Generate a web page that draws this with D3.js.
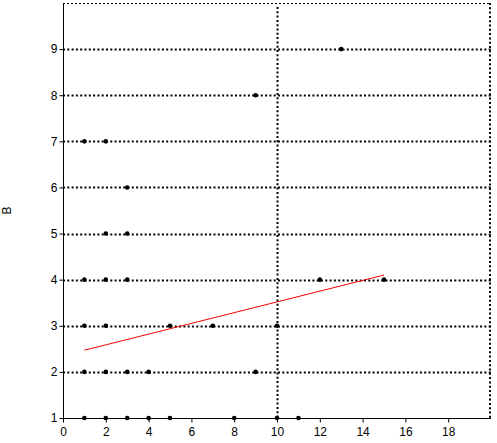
<!DOCTYPE html>
<html>
<head>
<meta charset="utf-8">
<script src="https://cdn.jsdelivr.net/npm/d3@7"></script>
<style>
  body { margin: 0; background: #fff; }
  text { font-family: "Liberation Sans", Arial, sans-serif; }
</style>
</head>
<body>
<div id="chart"></div>
<script>
// points, grouped by their B value
const xValues = [1, 2, 3, 4, 5, 8, 10, 11,
                 1, 2, 3, 4, 9,
                 1, 2, 5, 7, 10,
                 1, 2, 3, 12, 15,
                 2, 3,
                 3,
                 1, 2,
                 9,
                 13];
const yValues = [1, 1, 1, 1, 1, 1, 1, 1,
                 2, 2, 2, 2, 2,
                 3, 3, 3, 3, 3,
                 4, 4, 4, 4, 4,
                 5, 5,
                 6,
                 7, 7,
                 8,
                 9];
const xTicks = [0, 2, 4, 6, 8, 10, 12, 14, 16, 18];
const yTicks = [1, 2, 3, 4, 5, 6, 7, 8, 9];
const fitX = [1, 15];
const fitY = [2.47, 4.1];
const refX = 10;

let width = 497;
let height = 443;
let margin = { top: 3, right: 6, bottom: 25, left: 63 };

let svg = d3.select('#chart')
    .append('svg')
    .attr('width', width)
    .attr('height', height);

let x = d3.scaleLinear().domain([0, 20]).range([margin.left, width - margin.right]);
let y = d3.scaleLinear().domain([1, 10]).range([height - margin.bottom, margin.top]);

// horizontal dotted gridlines
svg.append('g')
    .selectAll('line')
    .data(yTicks.slice(1))
    .enter()
    .append('line')
    .attr('x1', x(0))
    .attr('x2', x(20))
    .attr('y1', d => Math.round(y(d)) + 0.5)
    .attr('y2', d => Math.round(y(d)) + 0.5)
    .attr('stroke', '#000')
    .attr('stroke-width', 2)
    .attr('stroke-dasharray', '2,2.3');

// top and right frame, dotted
svg.append('line')
    .attr('x1', x(0)).attr('x2', x(20))
    .attr('y1', y(10) + 0.5).attr('y2', y(10) + 0.5)
    .attr('stroke', '#000')
    .attr('stroke-dasharray', '2,2');
svg.append('line')
    .attr('x1', x(20) - 1).attr('x2', x(20) - 1)
    .attr('y1', y(10)).attr('y2', y(1))
    .attr('stroke', '#000')
    .attr('stroke-width', 2)
    .attr('stroke-dasharray', '2,2.3');

// vertical reference line
svg.append('line')
    .attr('x1', Math.round(x(refX)) + 0.5).attr('x2', Math.round(x(refX)) + 0.5)
    .attr('y1', y(10) + 4).attr('y2', y(1))
    .attr('stroke', '#000')
    .attr('stroke-width', 2)
    .attr('stroke-dasharray', '2,2.3');

// axes
let xAxis = d3.axisBottom(x).tickValues(xTicks).tickSize(4).tickSizeOuter(0);
let yAxis = d3.axisLeft(y).tickValues(yTicks).tickSize(4).tickSizeOuter(0);

let gx = svg.append('g')
    .attr('transform', 'translate(0,' + (Math.round(y(1)) + 0.5) + ')')
    .call(xAxis);
gx.select('.domain').attr('d', 'M' + x(0) + ',0H' + x(20));
gx.selectAll('text').attr('font-size', 12).attr('fill', '#000').attr('dy', '0.9em');

let gy = svg.append('g')
    .attr('transform', 'translate(' + (Math.round(x(0)) + 0.5) + ',0)')
    .call(yAxis);
gy.select('.domain').attr('d', 'M0,' + y(10) + 'V' + y(1));
gy.selectAll('text').attr('font-size', 12).attr('fill', '#000').attr('x', -6);

svg.selectAll('.domain, .tick line').attr('stroke', '#000');

svg.append('text')
    .attr('transform', 'translate(11,' + ((y(1) + y(10)) / 2) + ') rotate(-90)')
    .attr('text-anchor', 'middle')
    .attr('font-size', 12)
    .text('B');

// fit line
svg.append('line')
    .attr('x1', x(fitX[0])).attr('y1', y(fitY[0]))
    .attr('x2', x(fitX[1])).attr('y2', y(fitY[1]))
    .attr('stroke', '#ff0000')
    .attr('stroke-width', 1);

// points
svg.append('g')
    .selectAll('circle')
    .data(xValues.map((d, i) => [d, yValues[i]]))
    .enter()
    .append('circle')
    .attr('cx', d => x(d[0]))
    .attr('cy', d => y(d[1]))
    .attr('r', 2.3)
    .attr('fill', '#000');
</script>
</body>
</html>
